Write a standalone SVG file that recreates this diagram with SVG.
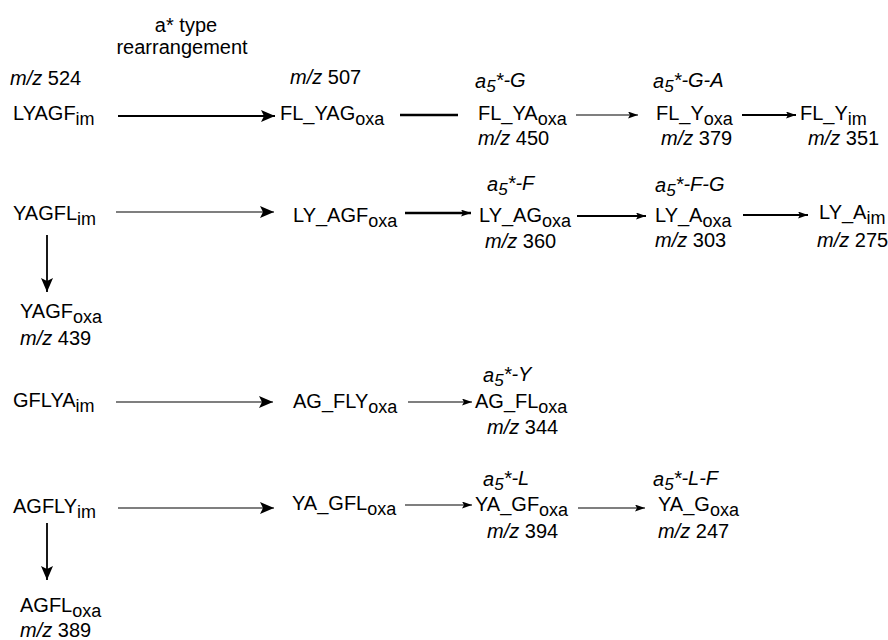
<svg xmlns="http://www.w3.org/2000/svg" width="888" height="640" viewBox="0 0 888 640">
<defs>
<style>
text{font-family:"Liberation Sans",Arial,sans-serif;font-size:20px;fill:#000}
.it{font-style:italic}
.sub{font-size:18px}
.s5{font-size:17px}
.c line{stroke:#000;fill:none}
.t1{stroke-width:1.2}
.t2{stroke-width:1.8}
.t3{stroke-width:2.6}
</style>
<marker id="big" markerUnits="userSpaceOnUse" markerWidth="16" markerHeight="14" refX="14" refY="6" orient="auto">
<path d="M0,0 L14,6 L0,12 L3,6 z" fill="#000"/>
</marker>
<marker id="small" markerUnits="userSpaceOnUse" markerWidth="12" markerHeight="8" refX="10" refY="3.5" orient="auto">
<path d="M0,0 L10,3.5 L0,7 L2,3.5 z" fill="#000"/>
</marker>
</defs>
<rect width="888" height="640" fill="#fff"/>

<g id="label-rearr">
<text x="186" y="32" text-anchor="middle">a* type</text>
<text x="182" y="54" text-anchor="middle">rearrangement</text>
</g>

<g class="c" id="connectors">
<line class="t2" x1="118" y1="116" x2="275" y2="116" marker-end="url(#big)"/>
<line class="t3" x1="400" y1="115" x2="458" y2="115"/>
<line class="t1" x1="576" y1="115" x2="638" y2="115" marker-end="url(#small)"/>
<line class="t2" x1="742" y1="115" x2="796" y2="115" marker-end="url(#small)"/>

<line class="t1" x1="116" y1="212" x2="274" y2="212" marker-end="url(#big)"/>
<line class="t3" x1="405" y1="213" x2="471" y2="213" marker-end="url(#small)"/>
<line class="t2" x1="577" y1="216" x2="646" y2="216" marker-end="url(#small)"/>
<line class="t2" x1="743" y1="215" x2="808" y2="215" marker-end="url(#small)"/>
<line class="t2" x1="47" y1="235" x2="47" y2="292" marker-end="url(#big)"/>

<line class="t1" x1="116" y1="402" x2="273" y2="402" marker-end="url(#big)"/>
<line class="t1" x1="408" y1="402" x2="472" y2="402" marker-end="url(#small)"/>

<line class="t1" x1="118" y1="508" x2="274" y2="508" marker-end="url(#big)"/>
<line class="t1" x1="405" y1="505" x2="472" y2="505" marker-end="url(#small)"/>
<line class="t1" x1="578" y1="508" x2="645" y2="508" marker-end="url(#small)"/>
<line class="t2" x1="47" y1="523" x2="47" y2="580" marker-end="url(#big)"/>
</g>

<g id="n-LYAGF">
<text x="10" y="85"><tspan class="it">m/z</tspan> 524</text>
<text x="13" y="120">LYAGF<tspan class="sub" dy="5">im</tspan></text>
</g>
<g id="n-FL_YAG">
<text x="290" y="84"><tspan class="it">m/z</tspan> 507</text>
<text x="280" y="120">FL_YAG<tspan class="sub" dy="5">oxa</tspan></text>
</g>
<g id="n-FL_YA">
<text x="475" y="88" class="it">a<tspan class="s5" dy="4">5</tspan><tspan dy="-5">*-G</tspan></text>
<text x="478" y="120">FL_YA<tspan class="sub" dy="5">oxa</tspan></text>
<text x="478" y="145"><tspan class="it">m/z</tspan> 450</text>
</g>
<g id="n-FL_Y">
<text x="653" y="88" class="it">a<tspan class="s5" dy="4">5</tspan><tspan dy="-5">*-G-A</tspan></text>
<text x="656" y="120">FL_Y<tspan class="sub" dy="5">oxa</tspan></text>
<text x="661" y="145"><tspan class="it">m/z</tspan> 379</text>
</g>
<g id="n-FL_Yim">
<text x="800" y="120">FL_Y<tspan class="sub" dy="5">im</tspan></text>
<text x="808" y="145"><tspan class="it">m/z</tspan> 351</text>
</g>

<g id="n-YAGFL">
<text x="13" y="220">YAGFL<tspan class="sub" dy="5">im</tspan></text>
</g>
<g id="n-YAGF">
<text x="20" y="318">YAGF<tspan class="sub" dy="5">oxa</tspan></text>
<text x="20" y="345"><tspan class="it">m/z</tspan> 439</text>
</g>
<g id="n-LY_AGF">
<text x="293" y="222">LY_AGF<tspan class="sub" dy="5">oxa</tspan></text>
</g>
<g id="n-LY_AG">
<text x="487" y="191" class="it">a<tspan class="s5" dy="4">5</tspan><tspan dy="-5">*-F</tspan></text>
<text x="479" y="222">LY_AG<tspan class="sub" dy="5">oxa</tspan></text>
<text x="485" y="248"><tspan class="it">m/z</tspan> 360</text>
</g>
<g id="n-LY_A">
<text x="655" y="192" class="it">a<tspan class="s5" dy="4">5</tspan><tspan dy="-5">*-F-G</tspan></text>
<text x="655" y="222">LY_A<tspan class="sub" dy="5">oxa</tspan></text>
<text x="655" y="247"><tspan class="it">m/z</tspan> 303</text>
</g>
<g id="n-LY_Aim">
<text x="819" y="219">LY_A<tspan class="sub" dy="5">im</tspan></text>
<text x="817" y="247"><tspan class="it">m/z</tspan> 275</text>
</g>

<g id="n-GFLYA">
<text x="13" y="407">GFLYA<tspan class="sub" dy="5">im</tspan></text>
</g>
<g id="n-AG_FLY">
<text x="293" y="408">AG_FLY<tspan class="sub" dy="5">oxa</tspan></text>
</g>
<g id="n-AG_FL">
<text x="483" y="382" class="it">a<tspan class="s5" dy="4">5</tspan><tspan dy="-5">*-Y</tspan></text>
<text x="475" y="408">AG_FL<tspan class="sub" dy="5">oxa</tspan></text>
<text x="487" y="434"><tspan class="it">m/z</tspan> 344</text>
</g>

<g id="n-AGFLY">
<text x="13" y="513">AGFLY<tspan class="sub" dy="5">im</tspan></text>
</g>
<g id="n-AGFL">
<text x="20" y="612">AGFL<tspan class="sub" dy="5">oxa</tspan></text>
<text x="20" y="637"><tspan class="it">m/z</tspan> 389</text>
</g>
<g id="n-YA_GFL">
<text x="292" y="510">YA_GFL<tspan class="sub" dy="5">oxa</tspan></text>
</g>
<g id="n-YA_GF">
<text x="483" y="486" class="it">a<tspan class="s5" dy="4">5</tspan><tspan dy="-5">*-L</tspan></text>
<text x="475" y="511">YA_GF<tspan class="sub" dy="5">oxa</tspan></text>
<text x="487" y="538"><tspan class="it">m/z</tspan> 394</text>
</g>
<g id="n-YA_G">
<text x="653" y="486" class="it">a<tspan class="s5" dy="4">5</tspan><tspan dy="-5">*-L-F</tspan></text>
<text x="658" y="511">YA_G<tspan class="sub" dy="5">oxa</tspan></text>
<text x="658" y="538"><tspan class="it">m/z</tspan> 247</text>
</g>
</svg>
